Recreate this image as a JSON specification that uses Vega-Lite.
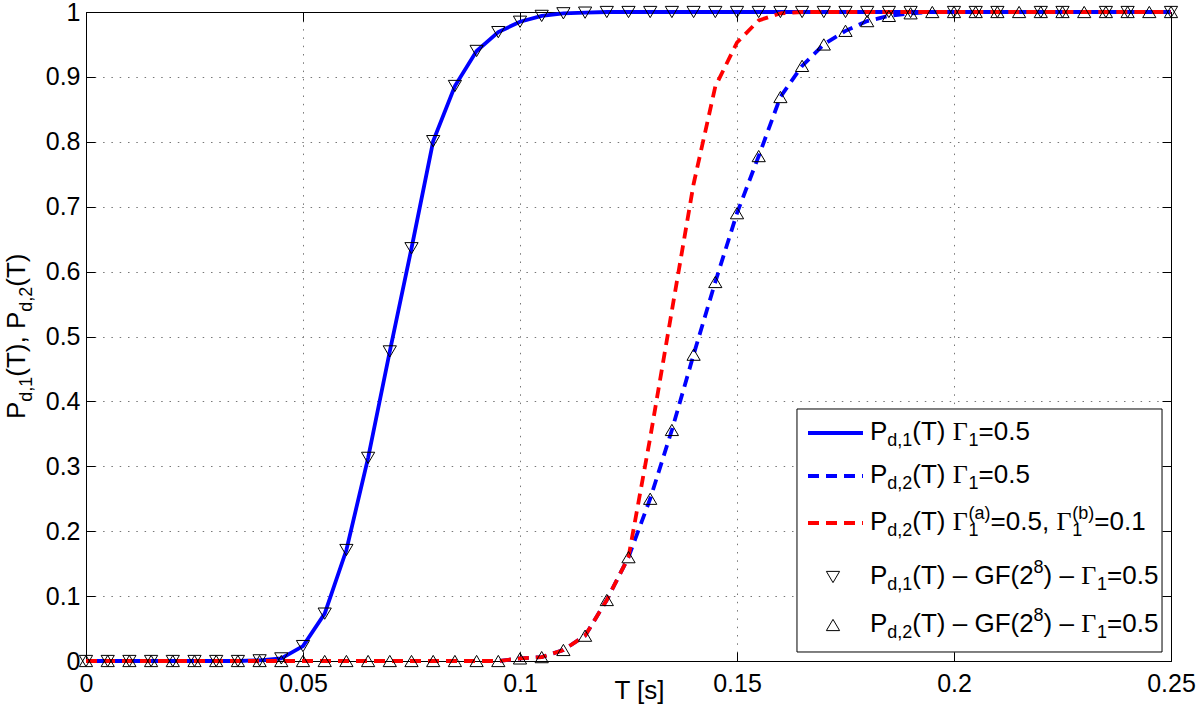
{
  "$schema": "https://vega.github.io/schema/vega-lite/v6.json",
  "width": 1085,
  "height": 649,
  "autosize": {"type": "none"},
  "padding": {"left": 86, "top": 12, "right": 29, "bottom": 53},
  "background": "white",
  "config": {"view": {"stroke": null}, "font": "Liberation Sans"},
  "data": {"values": [{}]},
  "datasets": {
    "pd1": [
      {"T": 0, "P": 0}, {"T": 0.005, "P": 0}, {"T": 0.01, "P": 0}, {"T": 0.015, "P": 0}, {"T": 0.02, "P": 0},
      {"T": 0.025, "P": 0}, {"T": 0.03, "P": 0}, {"T": 0.035, "P": 0}, {"T": 0.04, "P": 0.001}, {"T": 0.045, "P": 0.004},
      {"T": 0.05, "P": 0.023}, {"T": 0.055, "P": 0.073}, {"T": 0.06, "P": 0.171}, {"T": 0.065, "P": 0.313}, {"T": 0.07, "P": 0.477},
      {"T": 0.075, "P": 0.636}, {"T": 0.08, "P": 0.801}, {"T": 0.085, "P": 0.886}, {"T": 0.09, "P": 0.94}, {"T": 0.095, "P": 0.969},
      {"T": 0.1, "P": 0.985}, {"T": 0.105, "P": 0.994}, {"T": 0.11, "P": 0.998}, {"T": 0.115, "P": 0.999}, {"T": 0.12, "P": 1},
      {"T": 0.125, "P": 1}, {"T": 0.13, "P": 1}, {"T": 0.135, "P": 1}, {"T": 0.14, "P": 1}, {"T": 0.145, "P": 1},
      {"T": 0.15, "P": 1}, {"T": 0.155, "P": 1}, {"T": 0.16, "P": 1}, {"T": 0.165, "P": 1}, {"T": 0.17, "P": 1},
      {"T": 0.175, "P": 1}, {"T": 0.18, "P": 1}, {"T": 0.185, "P": 1}, {"T": 0.19, "P": 1}, {"T": 0.195, "P": 1},
      {"T": 0.2, "P": 1}, {"T": 0.205, "P": 1}, {"T": 0.21, "P": 1}, {"T": 0.215, "P": 1}, {"T": 0.22, "P": 1},
      {"T": 0.225, "P": 1}, {"T": 0.23, "P": 1}, {"T": 0.235, "P": 1}, {"T": 0.24, "P": 1}, {"T": 0.245, "P": 1},
      {"T": 0.25, "P": 1}
    ],
    "pd2": [
      {"T": 0, "P": 0}, {"T": 0.005, "P": 0}, {"T": 0.01, "P": 0}, {"T": 0.015, "P": 0}, {"T": 0.02, "P": 0},
      {"T": 0.025, "P": 0}, {"T": 0.03, "P": 0}, {"T": 0.035, "P": 0}, {"T": 0.04, "P": 0}, {"T": 0.045, "P": 0},
      {"T": 0.05, "P": 0}, {"T": 0.055, "P": 0}, {"T": 0.06, "P": 0}, {"T": 0.065, "P": 0}, {"T": 0.07, "P": 0},
      {"T": 0.075, "P": 0}, {"T": 0.08, "P": 0}, {"T": 0.085, "P": 0}, {"T": 0.09, "P": 0}, {"T": 0.095, "P": 0},
      {"T": 0.1, "P": 0.004}, {"T": 0.105, "P": 0.006}, {"T": 0.11, "P": 0.017}, {"T": 0.115, "P": 0.039}, {"T": 0.12, "P": 0.094},
      {"T": 0.125, "P": 0.16}, {"T": 0.13, "P": 0.25}, {"T": 0.135, "P": 0.356}, {"T": 0.14, "P": 0.472}, {"T": 0.145, "P": 0.584},
      {"T": 0.15, "P": 0.69}, {"T": 0.155, "P": 0.778}, {"T": 0.16, "P": 0.869}, {"T": 0.165, "P": 0.917}, {"T": 0.17, "P": 0.95},
      {"T": 0.175, "P": 0.971}, {"T": 0.18, "P": 0.986}, {"T": 0.185, "P": 0.994}, {"T": 0.19, "P": 0.998}, {"T": 0.195, "P": 1},
      {"T": 0.2, "P": 1}, {"T": 0.205, "P": 1}, {"T": 0.21, "P": 1}, {"T": 0.215, "P": 1}, {"T": 0.22, "P": 1},
      {"T": 0.225, "P": 1}, {"T": 0.23, "P": 1}, {"T": 0.235, "P": 1}, {"T": 0.24, "P": 1}, {"T": 0.245, "P": 1},
      {"T": 0.25, "P": 1}
    ],
    "pd2b": [
      {"T": 0, "P": 0}, {"T": 0.005, "P": 0}, {"T": 0.01, "P": 0}, {"T": 0.015, "P": 0}, {"T": 0.02, "P": 0},
      {"T": 0.025, "P": 0}, {"T": 0.03, "P": 0}, {"T": 0.035, "P": 0}, {"T": 0.04, "P": 0}, {"T": 0.045, "P": 0},
      {"T": 0.05, "P": 0}, {"T": 0.055, "P": 0}, {"T": 0.06, "P": 0}, {"T": 0.065, "P": 0}, {"T": 0.07, "P": 0},
      {"T": 0.075, "P": 0}, {"T": 0.08, "P": 0}, {"T": 0.085, "P": 0}, {"T": 0.09, "P": 0}, {"T": 0.095, "P": 0},
      {"T": 0.1, "P": 0.004}, {"T": 0.105, "P": 0.006}, {"T": 0.11, "P": 0.017}, {"T": 0.115, "P": 0.039}, {"T": 0.12, "P": 0.094},
      {"T": 0.125, "P": 0.16}, {"T": 0.13, "P": 0.344}, {"T": 0.135, "P": 0.54}, {"T": 0.14, "P": 0.735}, {"T": 0.145, "P": 0.885},
      {"T": 0.15, "P": 0.953}, {"T": 0.155, "P": 0.987}, {"T": 0.16, "P": 0.998}, {"T": 0.165, "P": 1}, {"T": 0.17, "P": 1},
      {"T": 0.175, "P": 1}, {"T": 0.18, "P": 1}, {"T": 0.185, "P": 1}, {"T": 0.19, "P": 1}, {"T": 0.195, "P": 1},
      {"T": 0.2, "P": 1}, {"T": 0.205, "P": 1}, {"T": 0.21, "P": 1}, {"T": 0.215, "P": 1}, {"T": 0.22, "P": 1},
      {"T": 0.225, "P": 1}, {"T": 0.23, "P": 1}, {"T": 0.235, "P": 1}, {"T": 0.24, "P": 1}, {"T": 0.245, "P": 1},
      {"T": 0.25, "P": 1}
    ],
    "gf1": [
      {"T": 0, "P": 0}, {"T": 0.005, "P": 0}, {"T": 0.01, "P": 0}, {"T": 0.015, "P": 0}, {"T": 0.02, "P": 0},
      {"T": 0.025, "P": 0}, {"T": 0.03, "P": 0}, {"T": 0.035, "P": 0}, {"T": 0.04, "P": 0.001}, {"T": 0.045, "P": 0.004},
      {"T": 0.05, "P": 0.023}, {"T": 0.055, "P": 0.073}, {"T": 0.06, "P": 0.171}, {"T": 0.065, "P": 0.313}, {"T": 0.07, "P": 0.477},
      {"T": 0.075, "P": 0.636}, {"T": 0.08, "P": 0.801}, {"T": 0.085, "P": 0.886}, {"T": 0.09, "P": 0.94}, {"T": 0.095, "P": 0.969},
      {"T": 0.1, "P": 0.985}, {"T": 0.105, "P": 0.994}, {"T": 0.11, "P": 0.998}, {"T": 0.115, "P": 0.999}, {"T": 0.12, "P": 1},
      {"T": 0.125, "P": 1}, {"T": 0.13, "P": 1}, {"T": 0.135, "P": 1}, {"T": 0.14, "P": 1}, {"T": 0.145, "P": 1},
      {"T": 0.15, "P": 1}, {"T": 0.155, "P": 1}, {"T": 0.16, "P": 1}, {"T": 0.165, "P": 1}, {"T": 0.17, "P": 1},
      {"T": 0.175, "P": 1}, {"T": 0.18, "P": 1}, {"T": 0.185, "P": 1}, {"T": 0.19, "P": 1},
      {"T": 0.2, "P": 1}, {"T": 0.205, "P": 1}, {"T": 0.21, "P": 1}, {"T": 0.22, "P": 1},
      {"T": 0.225, "P": 1}, {"T": 0.235, "P": 1}, {"T": 0.24, "P": 1},
      {"T": 0.25, "P": 1}
    ],
    "gf2": [
      {"T": 0, "P": 0}, {"T": 0.005, "P": 0}, {"T": 0.01, "P": 0}, {"T": 0.015, "P": 0}, {"T": 0.02, "P": 0},
      {"T": 0.025, "P": 0}, {"T": 0.03, "P": 0}, {"T": 0.035, "P": 0}, {"T": 0.04, "P": 0}, {"T": 0.045, "P": 0},
      {"T": 0.05, "P": 0}, {"T": 0.055, "P": 0}, {"T": 0.06, "P": 0}, {"T": 0.065, "P": 0}, {"T": 0.07, "P": 0},
      {"T": 0.075, "P": 0}, {"T": 0.08, "P": 0}, {"T": 0.085, "P": 0}, {"T": 0.09, "P": 0}, {"T": 0.095, "P": 0},
      {"T": 0.1, "P": 0.004}, {"T": 0.105, "P": 0.006}, {"T": 0.11, "P": 0.017}, {"T": 0.115, "P": 0.039}, {"T": 0.12, "P": 0.094},
      {"T": 0.125, "P": 0.16}, {"T": 0.13, "P": 0.25}, {"T": 0.135, "P": 0.356}, {"T": 0.14, "P": 0.472}, {"T": 0.145, "P": 0.584},
      {"T": 0.15, "P": 0.69}, {"T": 0.155, "P": 0.778}, {"T": 0.16, "P": 0.869}, {"T": 0.165, "P": 0.917}, {"T": 0.17, "P": 0.95},
      {"T": 0.175, "P": 0.971}, {"T": 0.18, "P": 0.986}, {"T": 0.185, "P": 0.994}, {"T": 0.19, "P": 0.998}, {"T": 0.195, "P": 1},
      {"T": 0.2, "P": 1}, {"T": 0.205, "P": 1}, {"T": 0.21, "P": 1}, {"T": 0.215, "P": 1}, {"T": 0.22, "P": 1},
      {"T": 0.225, "P": 1}, {"T": 0.23, "P": 1}, {"T": 0.235, "P": 1}, {"T": 0.24, "P": 1}, {"T": 0.245, "P": 1},
      {"T": 0.25, "P": 1}
    ]
  },
  "resolve": {"axis": {"x": "independent", "y": "independent"}},
  "layer": [
    {
      "data": {"name": "pd1"},
      "mark": {"type": "line", "color": "#0000ff", "strokeWidth": 3.8},
      "encoding": {
        "x": {"field": "T", "type": "quantitative", "scale": {"domain": [0, 0.25], "nice": false, "zero": false},
          "axis": {"orient": "bottom", "values": [0, 0.05, 0.1, 0.15, 0.2, 0.25], "format": "~g", "labelFlush": false, "labelOverlap": false,
            "labelFont": "Liberation Sans", "labelFontSize": 25, "labelColor": "#000", "labelBaseline": "top", "labelPadding": 19,
            "tickSize": -9, "tickColor": "#000", "tickWidth": 1, "domainColor": "#000", "domainWidth": 1,
            "grid": true, "gridColor": "#777777", "gridDash": [1.5, 6.8], "gridWidth": 1,
            "title": "T [s]", "titleFont": "Liberation Sans", "titleFontSize": 26, "titleFontWeight": "normal", "titleColor": "#000",
            "titleX": 553, "titleY": 37, "titleBaseline": "alphabetic", "titleAlign": "center"}},
        "y": {"field": "P", "type": "quantitative", "scale": {"domain": [0, 1], "nice": false, "zero": false},
          "axis": {"orient": "left", "values": [0, 0.1, 0.2, 0.3, 0.4, 0.5, 0.6, 0.7, 0.8, 0.9, 1], "format": "~g", "labelFlush": false, "labelOverlap": false,
            "labelFont": "Liberation Sans", "labelFontSize": 25, "labelColor": "#000", "labelPadding": 15,
            "tickSize": -9, "tickColor": "#000", "tickWidth": 1, "domainColor": "#000", "domainWidth": 1,
            "grid": true, "gridColor": "#777777", "gridDash": [1.5, 6.8], "gridWidth": 1, "title": null}}
      }
    },
    {
      "data": {"name": "pd2"},
      "mark": {"type": "line", "color": "#0000ff", "strokeWidth": 3.8, "strokeDash": [11, 7]},
      "encoding": {
        "x": {"field": "T", "type": "quantitative",
          "axis": {"orient": "top", "values": [0, 0.05, 0.1, 0.15, 0.2, 0.25], "labels": false, "grid": false, "title": null,
            "tickSize": -9, "tickColor": "#000", "domainColor": "#000", "domainWidth": 1}},
        "y": {"field": "P", "type": "quantitative",
          "axis": {"orient": "right", "values": [0, 0.1, 0.2, 0.3, 0.4, 0.5, 0.6, 0.7, 0.8, 0.9, 1], "labels": false, "grid": false, "title": null,
            "tickSize": -9, "tickColor": "#000", "domainColor": "#000", "domainWidth": 1}}
      }
    },
    {
      "data": {"name": "pd2b"},
      "mark": {"type": "line", "color": "#ff0000", "strokeWidth": 3.8, "strokeDash": [11, 7]},
      "encoding": {
        "x": {"field": "T", "type": "quantitative", "axis": null},
        "y": {"field": "P", "type": "quantitative", "axis": null}
      }
    },
    {
      "data": {"name": "gf1"},
      "mark": {"type": "point", "shape": "M-1,-0.85L1,-0.85L0,0.85Z", "size": 175, "filled": false, "color": "#000", "strokeWidth": 1, "opacity": 1},
      "encoding": {
        "x": {"field": "T", "type": "quantitative", "axis": null},
        "y": {"field": "P", "type": "quantitative", "axis": null}
      }
    },
    {
      "data": {"name": "gf2"},
      "mark": {"type": "point", "shape": "M0,-0.85L1,0.85L-1,0.85Z", "size": 175, "filled": false, "color": "#000", "strokeWidth": 1, "opacity": 1},
      "encoding": {
        "x": {"field": "T", "type": "quantitative", "axis": null},
        "y": {"field": "P", "type": "quantitative", "axis": null}
      }
    },
    {
      "mark": {"type": "rect", "fill": "white", "stroke": "#000", "strokeWidth": 1},
      "encoding": {
        "x": {"datum": 0.16382, "type": "quantitative", "axis": null}, "x2": {"datum": 0.24793},
        "y": {"datum": 0.38829, "type": "quantitative", "axis": null}, "y2": {"datum": 0.01387}
      }
    },
    {
      "mark": {"type": "rule", "color": "#0000ff", "strokeWidth": 3.8},
      "encoding": {
        "x": {"datum": 0.16636, "type": "quantitative", "axis": null}, "x2": {"datum": 0.17903},
        "y": {"datum": 0.35131, "type": "quantitative", "axis": null}
      }
    },
    {
      "mark": {"type": "rule", "color": "#0000ff", "strokeWidth": 3.8, "strokeDash": [11, 7]},
      "encoding": {
        "x": {"datum": 0.16636, "type": "quantitative", "axis": null}, "x2": {"datum": 0.17903},
        "y": {"datum": 0.28505, "type": "quantitative", "axis": null}
      }
    },
    {
      "mark": {"type": "rule", "color": "#ff0000", "strokeWidth": 3.8, "strokeDash": [11, 7]},
      "encoding": {
        "x": {"datum": 0.16636, "type": "quantitative", "axis": null}, "x2": {"datum": 0.17903},
        "y": {"datum": 0.21263, "type": "quantitative", "axis": null}
      }
    },
    {
      "mark": {"type": "point", "shape": "M-1,-0.85L1,-0.85L0,0.85Z", "size": 175, "filled": false, "color": "#000", "strokeWidth": 1, "opacity": 1},
      "encoding": {
        "x": {"datum": 0.17212, "type": "quantitative", "axis": null},
        "y": {"datum": 0.12943, "type": "quantitative", "axis": null}
      }
    },
    {
      "mark": {"type": "point", "shape": "M0,-0.85L1,0.85L-1,0.85Z", "size": 175, "filled": false, "color": "#000", "strokeWidth": 1, "opacity": 1},
      "encoding": {
        "x": {"datum": 0.17212, "type": "quantitative", "axis": null},
        "y": {"datum": 0.05547, "type": "quantitative", "axis": null}
      }
    },

    {"mark": {"type": "text", "text": "P", "fontSize": 26, "font": "Liberation Sans", "align": "left", "baseline": "alphabetic", "color": "#000"},
     "encoding": {"x": {"datum": 0.180645, "type": "quantitative", "axis": null}, "y": {"datum": 0.34052, "type": "quantitative", "axis": null}}},
    {"mark": {"type": "text", "text": "d,1", "fontSize": 18, "font": "Liberation Sans", "align": "left", "baseline": "alphabetic", "color": "#000"},
     "encoding": {"x": {"datum": 0.184631, "type": "quantitative", "axis": null}, "y": {"datum": 0.33128, "type": "quantitative", "axis": null}}},
    {"mark": {"type": "text", "text": "(T)", "fontSize": 26, "font": "Liberation Sans", "align": "left", "baseline": "alphabetic", "color": "#000"},
     "encoding": {"x": {"datum": 0.190392, "type": "quantitative", "axis": null}, "y": {"datum": 0.34052, "type": "quantitative", "axis": null}}},
    {"mark": {"type": "text", "text": "Γ", "fontSize": 26, "font": "Liberation Serif", "align": "left", "baseline": "alphabetic", "color": "#000"},
     "encoding": {"x": {"datum": 0.1997, "type": "quantitative", "axis": null}, "y": {"datum": 0.34052, "type": "quantitative", "axis": null}}},
    {"mark": {"type": "text", "text": "1", "fontSize": 18, "font": "Liberation Sans", "align": "left", "baseline": "alphabetic", "color": "#000"},
     "encoding": {"x": {"datum": 0.203364, "type": "quantitative", "axis": null}, "y": {"datum": 0.33128, "type": "quantitative", "axis": null}}},
    {"mark": {"type": "text", "text": "=0.5", "fontSize": 26, "font": "Liberation Sans", "align": "left", "baseline": "alphabetic", "color": "#000"},
     "encoding": {"x": {"datum": 0.205668, "type": "quantitative", "axis": null}, "y": {"datum": 0.34052, "type": "quantitative", "axis": null}}},

    {"mark": {"type": "text", "text": "P", "fontSize": 26, "font": "Liberation Sans", "align": "left", "baseline": "alphabetic", "color": "#000"},
     "encoding": {"x": {"datum": 0.180645, "type": "quantitative", "axis": null}, "y": {"datum": 0.27427, "type": "quantitative", "axis": null}}},
    {"mark": {"type": "text", "text": "d,2", "fontSize": 18, "font": "Liberation Sans", "align": "left", "baseline": "alphabetic", "color": "#000"},
     "encoding": {"x": {"datum": 0.184631, "type": "quantitative", "axis": null}, "y": {"datum": 0.26502, "type": "quantitative", "axis": null}}},
    {"mark": {"type": "text", "text": "(T)", "fontSize": 26, "font": "Liberation Sans", "align": "left", "baseline": "alphabetic", "color": "#000"},
     "encoding": {"x": {"datum": 0.190392, "type": "quantitative", "axis": null}, "y": {"datum": 0.27427, "type": "quantitative", "axis": null}}},
    {"mark": {"type": "text", "text": "Γ", "fontSize": 26, "font": "Liberation Serif", "align": "left", "baseline": "alphabetic", "color": "#000"},
     "encoding": {"x": {"datum": 0.1997, "type": "quantitative", "axis": null}, "y": {"datum": 0.27427, "type": "quantitative", "axis": null}}},
    {"mark": {"type": "text", "text": "1", "fontSize": 18, "font": "Liberation Sans", "align": "left", "baseline": "alphabetic", "color": "#000"},
     "encoding": {"x": {"datum": 0.203364, "type": "quantitative", "axis": null}, "y": {"datum": 0.26502, "type": "quantitative", "axis": null}}},
    {"mark": {"type": "text", "text": "=0.5", "fontSize": 26, "font": "Liberation Sans", "align": "left", "baseline": "alphabetic", "color": "#000"},
     "encoding": {"x": {"datum": 0.205668, "type": "quantitative", "axis": null}, "y": {"datum": 0.27427, "type": "quantitative", "axis": null}}},

    {"mark": {"type": "text", "text": "P", "fontSize": 26, "font": "Liberation Sans", "align": "left", "baseline": "alphabetic", "color": "#000"},
     "encoding": {"x": {"datum": 0.180645, "type": "quantitative", "axis": null}, "y": {"datum": 0.20185, "type": "quantitative", "axis": null}}},
    {"mark": {"type": "text", "text": "d,2", "fontSize": 18, "font": "Liberation Sans", "align": "left", "baseline": "alphabetic", "color": "#000"},
     "encoding": {"x": {"datum": 0.184631, "type": "quantitative", "axis": null}, "y": {"datum": 0.1926, "type": "quantitative", "axis": null}}},
    {"mark": {"type": "text", "text": "(T)", "fontSize": 26, "font": "Liberation Sans", "align": "left", "baseline": "alphabetic", "color": "#000"},
     "encoding": {"x": {"datum": 0.190392, "type": "quantitative", "axis": null}, "y": {"datum": 0.20185, "type": "quantitative", "axis": null}}},
    {"mark": {"type": "text", "text": "Γ", "fontSize": 26, "font": "Liberation Serif", "align": "left", "baseline": "alphabetic", "color": "#000"},
     "encoding": {"x": {"datum": 0.1997, "type": "quantitative", "axis": null}, "y": {"datum": 0.20185, "type": "quantitative", "axis": null}}},
    {"mark": {"type": "text", "text": "1", "fontSize": 18, "font": "Liberation Sans", "align": "left", "baseline": "alphabetic", "color": "#000"},
     "encoding": {"x": {"datum": 0.203364, "type": "quantitative", "axis": null}, "y": {"datum": 0.1926, "type": "quantitative", "axis": null}}},
    {"mark": {"type": "text", "text": "(a)", "fontSize": 18, "font": "Liberation Sans", "align": "left", "baseline": "alphabetic", "color": "#000"},
     "encoding": {"x": {"datum": 0.203364, "type": "quantitative", "axis": null}, "y": {"datum": 0.2188, "type": "quantitative", "axis": null}}},
    {"mark": {"type": "text", "text": "=0.5,", "fontSize": 26, "font": "Liberation Sans", "align": "left", "baseline": "alphabetic", "color": "#000"},
     "encoding": {"x": {"datum": 0.208433, "type": "quantitative", "axis": null}, "y": {"datum": 0.20185, "type": "quantitative", "axis": null}}},
    {"mark": {"type": "text", "text": "Γ", "fontSize": 26, "font": "Liberation Serif", "align": "left", "baseline": "alphabetic", "color": "#000"},
     "encoding": {"x": {"datum": 0.223594, "type": "quantitative", "axis": null}, "y": {"datum": 0.20185, "type": "quantitative", "axis": null}}},
    {"mark": {"type": "text", "text": "1", "fontSize": 18, "font": "Liberation Sans", "align": "left", "baseline": "alphabetic", "color": "#000"},
     "encoding": {"x": {"datum": 0.227258, "type": "quantitative", "axis": null}, "y": {"datum": 0.1926, "type": "quantitative", "axis": null}}},
    {"mark": {"type": "text", "text": "(b)", "fontSize": 18, "font": "Liberation Sans", "align": "left", "baseline": "alphabetic", "color": "#000"},
     "encoding": {"x": {"datum": 0.227258, "type": "quantitative", "axis": null}, "y": {"datum": 0.2188, "type": "quantitative", "axis": null}}},
    {"mark": {"type": "text", "text": "=0.1", "fontSize": 26, "font": "Liberation Sans", "align": "left", "baseline": "alphabetic", "color": "#000"},
     "encoding": {"x": {"datum": 0.232327, "type": "quantitative", "axis": null}, "y": {"datum": 0.20185, "type": "quantitative", "axis": null}}},

    {"mark": {"type": "text", "text": "P", "fontSize": 26, "font": "Liberation Sans", "align": "left", "baseline": "alphabetic", "color": "#000"},
     "encoding": {"x": {"datum": 0.180645, "type": "quantitative", "axis": null}, "y": {"datum": 0.11864, "type": "quantitative", "axis": null}}},
    {"mark": {"type": "text", "text": "d,1", "fontSize": 18, "font": "Liberation Sans", "align": "left", "baseline": "alphabetic", "color": "#000"},
     "encoding": {"x": {"datum": 0.184631, "type": "quantitative", "axis": null}, "y": {"datum": 0.1094, "type": "quantitative", "axis": null}}},
    {"mark": {"type": "text", "text": "(T) – GF(2", "fontSize": 26, "font": "Liberation Sans", "align": "left", "baseline": "alphabetic", "color": "#000"},
     "encoding": {"x": {"datum": 0.190392, "type": "quantitative", "axis": null}, "y": {"datum": 0.11864, "type": "quantitative", "axis": null}}},
    {"mark": {"type": "text", "text": "8", "fontSize": 18, "font": "Liberation Sans", "align": "left", "baseline": "alphabetic", "color": "#000"},
     "encoding": {"x": {"datum": 0.218341, "type": "quantitative", "axis": null}, "y": {"datum": 0.13559, "type": "quantitative", "axis": null}}},
    {"mark": {"type": "text", "text": ") –", "fontSize": 26, "font": "Liberation Sans", "align": "left", "baseline": "alphabetic", "color": "#000"},
     "encoding": {"x": {"datum": 0.220645, "type": "quantitative", "axis": null}, "y": {"datum": 0.11864, "type": "quantitative", "axis": null}}},
    {"mark": {"type": "text", "text": "Γ", "fontSize": 26, "font": "Liberation Serif", "align": "left", "baseline": "alphabetic", "color": "#000"},
     "encoding": {"x": {"datum": 0.229309, "type": "quantitative", "axis": null}, "y": {"datum": 0.11864, "type": "quantitative", "axis": null}}},
    {"mark": {"type": "text", "text": "1", "fontSize": 18, "font": "Liberation Sans", "align": "left", "baseline": "alphabetic", "color": "#000"},
     "encoding": {"x": {"datum": 0.232972, "type": "quantitative", "axis": null}, "y": {"datum": 0.1094, "type": "quantitative", "axis": null}}},
    {"mark": {"type": "text", "text": "=0.5", "fontSize": 26, "font": "Liberation Sans", "align": "left", "baseline": "alphabetic", "color": "#000"},
     "encoding": {"x": {"datum": 0.235276, "type": "quantitative", "axis": null}, "y": {"datum": 0.11864, "type": "quantitative", "axis": null}}},

    {"mark": {"type": "text", "text": "P", "fontSize": 26, "font": "Liberation Sans", "align": "left", "baseline": "alphabetic", "color": "#000"},
     "encoding": {"x": {"datum": 0.180645, "type": "quantitative", "axis": null}, "y": {"datum": 0.04468, "type": "quantitative", "axis": null}}},
    {"mark": {"type": "text", "text": "d,2", "fontSize": 18, "font": "Liberation Sans", "align": "left", "baseline": "alphabetic", "color": "#000"},
     "encoding": {"x": {"datum": 0.184631, "type": "quantitative", "axis": null}, "y": {"datum": 0.03544, "type": "quantitative", "axis": null}}},
    {"mark": {"type": "text", "text": "(T) – GF(2", "fontSize": 26, "font": "Liberation Sans", "align": "left", "baseline": "alphabetic", "color": "#000"},
     "encoding": {"x": {"datum": 0.190392, "type": "quantitative", "axis": null}, "y": {"datum": 0.04468, "type": "quantitative", "axis": null}}},
    {"mark": {"type": "text", "text": "8", "fontSize": 18, "font": "Liberation Sans", "align": "left", "baseline": "alphabetic", "color": "#000"},
     "encoding": {"x": {"datum": 0.218341, "type": "quantitative", "axis": null}, "y": {"datum": 0.06163, "type": "quantitative", "axis": null}}},
    {"mark": {"type": "text", "text": ") –", "fontSize": 26, "font": "Liberation Sans", "align": "left", "baseline": "alphabetic", "color": "#000"},
     "encoding": {"x": {"datum": 0.220645, "type": "quantitative", "axis": null}, "y": {"datum": 0.04468, "type": "quantitative", "axis": null}}},
    {"mark": {"type": "text", "text": "Γ", "fontSize": 26, "font": "Liberation Serif", "align": "left", "baseline": "alphabetic", "color": "#000"},
     "encoding": {"x": {"datum": 0.229309, "type": "quantitative", "axis": null}, "y": {"datum": 0.04468, "type": "quantitative", "axis": null}}},
    {"mark": {"type": "text", "text": "1", "fontSize": 18, "font": "Liberation Sans", "align": "left", "baseline": "alphabetic", "color": "#000"},
     "encoding": {"x": {"datum": 0.232972, "type": "quantitative", "axis": null}, "y": {"datum": 0.03544, "type": "quantitative", "axis": null}}},
    {"mark": {"type": "text", "text": "=0.5", "fontSize": 26, "font": "Liberation Sans", "align": "left", "baseline": "alphabetic", "color": "#000"},
     "encoding": {"x": {"datum": 0.235276, "type": "quantitative", "axis": null}, "y": {"datum": 0.04468, "type": "quantitative", "axis": null}}},

    {"mark": {"type": "text", "text": "P", "fontSize": 26, "font": "Liberation Sans", "align": "left", "baseline": "alphabetic", "angle": 270, "color": "#000"},
     "encoding": {"x": {"datum": -0.014055, "type": "quantitative", "axis": null}, "y": {"datum": 0.37288, "type": "quantitative", "axis": null}}},
    {"mark": {"type": "text", "text": "d,1", "fontSize": 18, "font": "Liberation Sans", "align": "left", "baseline": "alphabetic", "angle": 270, "color": "#000"},
     "encoding": {"x": {"datum": -0.012442, "type": "quantitative", "axis": null}, "y": {"datum": 0.39954, "type": "quantitative", "axis": null}}},
    {"mark": {"type": "text", "text": "(T),", "fontSize": 26, "font": "Liberation Sans", "align": "left", "baseline": "alphabetic", "angle": 270, "color": "#000"},
     "encoding": {"x": {"datum": -0.014055, "type": "quantitative", "axis": null}, "y": {"datum": 0.43806, "type": "quantitative", "axis": null}}},
    {"mark": {"type": "text", "text": "P", "fontSize": 26, "font": "Liberation Sans", "align": "left", "baseline": "alphabetic", "angle": 270, "color": "#000"},
     "encoding": {"x": {"datum": -0.014055, "type": "quantitative", "axis": null}, "y": {"datum": 0.51156, "type": "quantitative", "axis": null}}},
    {"mark": {"type": "text", "text": "d,2", "fontSize": 18, "font": "Liberation Sans", "align": "left", "baseline": "alphabetic", "angle": 270, "color": "#000"},
     "encoding": {"x": {"datum": -0.012442, "type": "quantitative", "axis": null}, "y": {"datum": 0.53821, "type": "quantitative", "axis": null}}},
    {"mark": {"type": "text", "text": "(T)", "fontSize": 26, "font": "Liberation Sans", "align": "left", "baseline": "alphabetic", "angle": 270, "color": "#000"},
     "encoding": {"x": {"datum": -0.014055, "type": "quantitative", "axis": null}, "y": {"datum": 0.57673, "type": "quantitative", "axis": null}}}
  ]
}
